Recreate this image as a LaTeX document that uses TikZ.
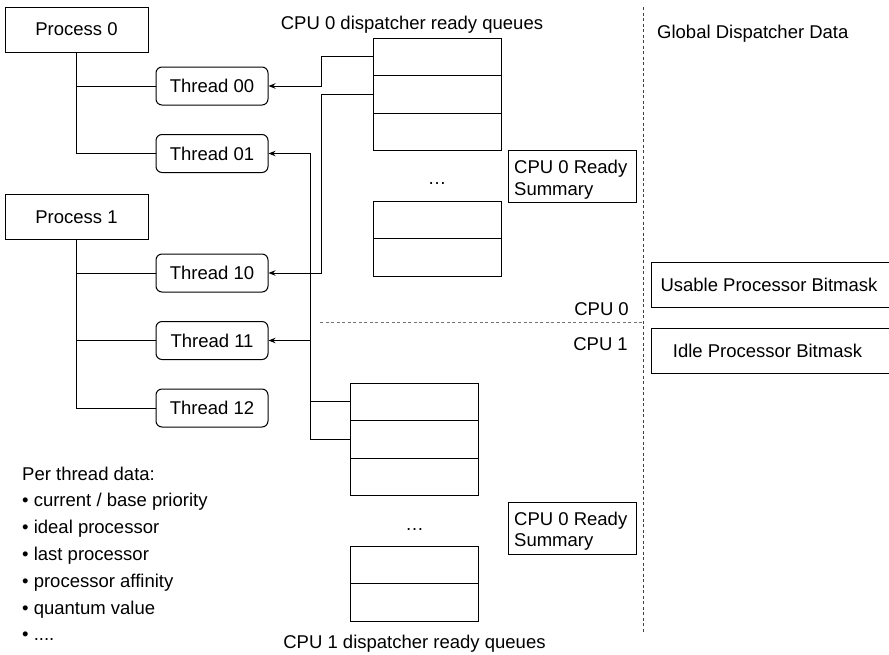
\documentclass[tikz,border=0pt]{standalone}
\usepackage{fontspec}
\setmainfont{Liberation Sans}
\usetikzlibrary{arrows.meta}
\begin{document}
\begin{tikzpicture}[x=1pt,y=-1pt,
  every node/.style={font=\fontsize{18.5}{22}\selectfont, inner sep=0pt},
  proc/.style={draw, line width=1pt, minimum width=143pt, minimum height=45pt},
  thr/.style={draw, line width=1pt, rounded corners=6pt, minimum width=112pt, minimum height=38pt},
  qrow/.style={draw, line width=1pt, minimum width=128pt, minimum height=37.5pt},
  summ/.style={draw, line width=1pt, minimum width=128pt, minimum height=52pt},
  bitm/.style={draw, line width=1pt, minimum width=244pt, minimum height=45pt},
  conn/.style={line width=1pt},
  arr/.style={line width=1pt, -{Stealth[length=7pt,width=5.5pt]}},
  lbl/.style={anchor=base},
  divider/.style={line width=1pt, dash pattern=on 3pt off 2.5pt}
]
\useasboundingbox (0,0) rectangle (889,654);

% processes
\node[proc] (p0) at (76.5,29.5) {Process 0};
\node[proc] (p1) at (76.5,217) {Process 1};

% threads
\node[thr] (t00) at (212,86) {Thread 00};
\node[thr] (t01) at (212,153.5) {Thread 01};
\node[thr] (t10) at (212,273) {Thread 10};
\node[thr] (t11) at (212,340.5) {Thread 11};
\node[thr] (t12) at (212,408) {Thread 12};

\draw[conn] (p0.south) |- (t00.west);
\draw[conn] (p0.south) |- (t01.west);
\draw[conn] (p1.south) |- (t10.west);
\draw[conn] (p1.south) |- (t11.west);
\draw[conn] (p1.south) |- (t12.west);

% CPU 0 queues
\node[qrow] (a1) at (437,56.75) {};
\node[qrow] (a2) at (437,94.25) {};
\node[qrow] (a3) at (437,131.75) {};
\node[qrow] (a4) at (437,219.75) {};
\node[qrow] (a5) at (437,257.25) {};
\node[lbl] (dots0) at (437,184) {\dots};
\node[lbl] (cpu0q) at (412,29.5) {CPU 0 dispatcher ready queues};
\node[summ] (rs0) at (572,176) {};
\node[anchor=base west] (rs0a) at (514,173) {CPU 0 Ready};
\node[anchor=base west] (rs0b) at (514,195) {Summary};

% CPU 1 queues
\node[qrow] (b1) at (414.5,401.75) {};
\node[qrow] (b2) at (414.5,439.25) {};
\node[qrow] (b3) at (414.5,476.75) {};
\node[qrow] (b4) at (414.5,564.75) {};
\node[qrow] (b5) at (414.5,602.25) {};
\node[lbl] (dots1) at (414.5,530) {\dots};
\node[lbl] (cpu1q) at (414.5,648) {CPU 1 dispatcher ready queues};
\node[summ] (rs1) at (572,528) {};
\node[anchor=base west] (rs1a) at (514,525) {CPU 0 Ready};
\node[anchor=base west] (rs1b) at (514,546) {Summary};

% connectors CPU 0
\coordinate (busA) at (321,0);
\coordinate (busB) at (310,0);
\draw[arr] (a1.west) -- (a1.west -| busA) |- (t00.east);
\draw[arr] (a2.west) -- (a2.west -| busA) |- (t10.east);

% connectors CPU 1
\draw[arr] (b2.west) -- (b2.west -| busB) |- (t01.east);
\draw[conn] (b1.west) -- (b1.west -| busB);
\draw[arr] (t11.east -| busB) -- (t11.east);

% dividers
\coordinate (hl) at (320,322);
\coordinate (hr) at (643,322);
\coordinate (vt) at (643,7);
\coordinate (vb) at (643,632);
\draw[divider, black!55] (hl) -- (hr);
\draw[divider, black!75] (vt) -- (vb);
\node[lbl, anchor=base east] (c0) at (629,315) {CPU 0};
\node[lbl, anchor=base east] (c1) at (628,350) {CPU 1};

% global data
\node[lbl, anchor=base west] (gdd) at (657,38) {Global Dispatcher Data};
\node[bitm] (ub) at (773,284.5) {};
\node (ubt) at (769,284.5) {Usable Processor Bitmask};
\node[bitm] (ib) at (773,351) {};
\node (ibt) at (767.5,351) {Idle Processor Bitmask};

% per thread data
\node[anchor=base west] (ptd) at (22,480) {Per thread data:};
\node[anchor=base west] (ptd1) at (22,506.8) {•\ current / base priority};
\node[anchor=base west] (ptd2) at (22,533.6) {•\ ideal processor};
\node[anchor=base west] (ptd3) at (22,560.4) {•\ last processor};
\node[anchor=base west] (ptd4) at (22,587.2) {•\ processor affinity};
\node[anchor=base west] (ptd5) at (22,614) {•\ quantum value};
\node[anchor=base west] (ptd6) at (22,640.8) {•\ ....};
\end{tikzpicture}
\end{document}
